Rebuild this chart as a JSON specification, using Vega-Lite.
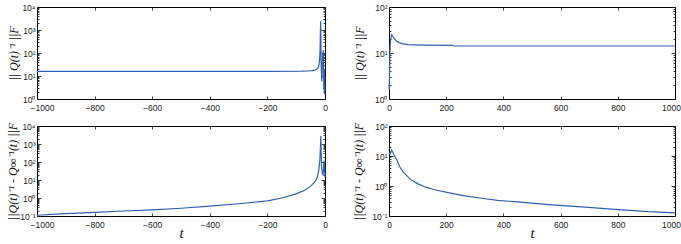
{
  "$schema": "https://vega.github.io/schema/vega-lite/v6.json",
  "padding": {"left": 6, "top": 2, "right": 0, "bottom": 0},
  "background": "white",
  "bounds": "flush",
  "columns": 2,
  "spacing": {"column": 64, "row": 27},
  "config": {
    "view": {"stroke": "black", "strokeWidth": 1},
    "axis": {
      "domain": false,
      "grid": false,
      "tickColor": "#111",
      "tickWidth": 0.8,
      "labelFont": "Liberation Sans",
      "labelFontSize": 8.5,
      "labelColor": "#222",
      "labelFlush": false,
      "format": "d",
      "titleFont": "Liberation Serif",
      "titleFontStyle": "italic",
      "titleFontWeight": "normal",
      "titleColor": "#111"
    },
    "line": {"color": "#2f5fb3", "strokeWidth": 1.2, "clip": true}
  },
  "datasets": {
    "tl": [
      {"t": -1000, "v": 16}, {"t": -600, "v": 16}, {"t": -200, "v": 16}, {"t": -80, "v": 16.2},
      {"t": -60, "v": 16.5}, {"t": -45, "v": 17}, {"t": -35, "v": 18}, {"t": -28, "v": 20},
      {"t": -24, "v": 23}, {"t": -21, "v": 30}, {"t": -19, "v": 45}, {"t": -17, "v": 150},
      {"t": -16, "v": 800}, {"t": -15, "v": 2450}, {"t": -14.3, "v": 300}, {"t": -13.5, "v": 40},
      {"t": -12.5, "v": 15}, {"t": -11, "v": 6}, {"t": -10, "v": 12}, {"t": -9, "v": 40},
      {"t": -8, "v": 80}, {"t": -7, "v": 100}, {"t": -6, "v": 130}, {"t": -5, "v": 60},
      {"t": -4.5, "v": 8}, {"t": -4, "v": 2.5}, {"t": -3, "v": 5}, {"t": -2.5, "v": 2},
      {"t": -2, "v": 20}, {"t": -1.5, "v": 3}, {"t": -1, "v": 10}, {"t": -0.5, "v": 2}, {"t": 0, "v": 1.5}
    ],
    "tr": [
      {"t": 0, "v": 2.0}, {"t": 1, "v": 1.6}, {"t": 2, "v": 4}, {"t": 3, "v": 9}, {"t": 4, "v": 14},
      {"t": 6, "v": 20}, {"t": 9, "v": 25}, {"t": 12, "v": 24}, {"t": 15, "v": 22}, {"t": 20, "v": 20},
      {"t": 27, "v": 18}, {"t": 35, "v": 17}, {"t": 44, "v": 16}, {"t": 55, "v": 15.6}, {"t": 68, "v": 15.2},
      {"t": 90, "v": 15}, {"t": 126, "v": 14.8}, {"t": 222, "v": 14.7}, {"t": 226, "v": 14.2},
      {"t": 400, "v": 14.2}, {"t": 600, "v": 14.2}, {"t": 800, "v": 14.2}, {"t": 1000, "v": 14.2}
    ],
    "bl": [
      {"t": -1000, "v": 0.11}, {"t": -900, "v": 0.135}, {"t": -800, "v": 0.16}, {"t": -700, "v": 0.19},
      {"t": -600, "v": 0.22}, {"t": -500, "v": 0.27}, {"t": -400, "v": 0.35}, {"t": -300, "v": 0.48},
      {"t": -200, "v": 0.69}, {"t": -150, "v": 1.0}, {"t": -100, "v": 1.7}, {"t": -70, "v": 2.7},
      {"t": -47, "v": 5}, {"t": -35, "v": 8}, {"t": -29, "v": 11.7}, {"t": -24, "v": 22},
      {"t": -21, "v": 42}, {"t": -18, "v": 120}, {"t": -16, "v": 600}, {"t": -14.5, "v": 2800},
      {"t": -13.5, "v": 400}, {"t": -12, "v": 63}, {"t": -10, "v": 30}, {"t": -7, "v": 18},
      {"t": -5, "v": 40}, {"t": -3, "v": 120}, {"t": -2, "v": 100}, {"t": -1, "v": 40}, {"t": 0, "v": 14}
    ],
    "br": [
      {"t": 0, "v": 12.6}, {"t": 3, "v": 11.5}, {"t": 6, "v": 13}, {"t": 9, "v": 15.5}, {"t": 12, "v": 14},
      {"t": 17, "v": 11}, {"t": 22, "v": 9}, {"t": 27, "v": 7.6}, {"t": 38, "v": 4.3}, {"t": 50, "v": 2.9},
      {"t": 75, "v": 1.66}, {"t": 100, "v": 1.2}, {"t": 126, "v": 0.93}, {"t": 160, "v": 0.75},
      {"t": 207, "v": 0.6}, {"t": 260, "v": 0.48}, {"t": 324, "v": 0.39}, {"t": 380, "v": 0.33},
      {"t": 440, "v": 0.30}, {"t": 557, "v": 0.24}, {"t": 674, "v": 0.20}, {"t": 790, "v": 0.166},
      {"t": 907, "v": 0.14}, {"t": 1000, "v": 0.128}
    ]
  },
  "concat": [
    {
      "width": 288, "height": 92,
      "data": {"name": "tl"},
      "layer": [
        {"mark": {"type": "line"},
         "encoding": {
           "x": {"field": "t", "type": "quantitative", "scale": {"domain": [-1000, 0], "nice": false, "zero": false},
                 "axis": {"orient": "bottom", "values": [-1000, -800, -600, -400, -200, 0], "tickSize": -3, "labelPadding": 7, "title": null,
                          "labelOffset": {"condition": {"test": "datum.value == -1000", "value": 5}, "value": 0}}},
           "y": {"field": "v", "type": "quantitative", "scale": {"type": "log", "domain": [1, 10000], "nice": false},
                 "axis": {"orient": "left", "values": [1,2,3,4,5,6,7,8,9,10,20,30,40,50,60,70,80,90,100,200,300,400,500,600,700,800,900,1000,2000,3000,4000,5000,6000,7000,8000,9000,10000],
                          "labelExpr": "datum.value==1?'10⁰':datum.value==10?'10¹':datum.value==100?'10²':datum.value==1000?'10³':datum.value==10000?'10⁴':''",
                          "tickSize": {"condition": {"test": "indexof([1,10,100,1000,10000], datum.value) >= 0", "value": -4}, "value": -2},
                          "labelPadding": 6, "title": "|| Q(t)⁻¹ ||F", "titleFontSize": 12, "titlePadding": 1}}
         }},
        {"mark": {"type": "line", "opacity": 0},
         "encoding": {
           "x": {"field": "t", "type": "quantitative", "scale": {"domain": [-1000, 0], "nice": false, "zero": false},
                 "axis": {"orient": "top", "values": [-1000, -800, -600, -400, -200, 0], "tickSize": -3, "labels": false, "title": null}},
           "y": {"field": "v", "type": "quantitative", "scale": {"type": "log", "domain": [1, 10000], "nice": false},
                 "axis": {"orient": "right", "values": [1,2,3,4,5,6,7,8,9,10,20,30,40,50,60,70,80,90,100,200,300,400,500,600,700,800,900,1000,2000,3000,4000,5000,6000,7000,8000,9000,10000],
                          "tickSize": {"condition": {"test": "indexof([1,10,100,1000,10000], datum.value) >= 0", "value": -4}, "value": -2},
                          "labels": false, "title": null}}
         }}
      ],
      "resolve": {"axis": {"x": "independent", "y": "independent"}}
    },
    {
      "width": 286, "height": 92,
      "data": {"name": "tr"},
      "layer": [
        {"mark": {"type": "line"},
         "encoding": {
           "x": {"field": "t", "type": "quantitative", "scale": {"domain": [0, 1000], "nice": false, "zero": false},
                 "axis": {"orient": "bottom", "values": [0, 200, 400, 600, 800, 1000], "tickSize": -3, "labelPadding": 7, "title": null,
                          "labelOffset": {"condition": {"test": "datum.value == 1000", "value": -4}, "value": 0}}},
           "y": {"field": "v", "type": "quantitative", "scale": {"type": "log", "domain": [1, 100], "nice": false},
                 "axis": {"orient": "left", "values": [1,2,3,4,5,6,7,8,9,10,20,30,40,50,60,70,80,90,100],
                          "labelExpr": "datum.value==1?'10⁰':datum.value==10?'10¹':datum.value==100?'10²':''",
                          "tickSize": {"condition": {"test": "indexof([1,10,100], datum.value) >= 0", "value": -4}, "value": -2},
                          "labelPadding": 6, "title": "|| Q(t)⁻¹ ||F", "titleFontSize": 12, "titlePadding": 8}}
         }},
        {"mark": {"type": "line", "opacity": 0},
         "encoding": {
           "x": {"field": "t", "type": "quantitative", "scale": {"domain": [0, 1000], "nice": false, "zero": false},
                 "axis": {"orient": "top", "values": [0, 200, 400, 600, 800, 1000], "tickSize": -3, "labels": false, "title": null}},
           "y": {"field": "v", "type": "quantitative", "scale": {"type": "log", "domain": [1, 100], "nice": false},
                 "axis": {"orient": "right", "values": [1,2,3,4,5,6,7,8,9,10,20,30,40,50,60,70,80,90,100],
                          "tickSize": {"condition": {"test": "indexof([1,10,100], datum.value) >= 0", "value": -4}, "value": -2},
                          "labels": false, "title": null}}
         }}
      ],
      "resolve": {"axis": {"x": "independent", "y": "independent"}}
    },
    {
      "width": 288, "height": 90,
      "data": {"name": "bl"},
      "layer": [
        {"mark": {"type": "line"},
         "encoding": {
           "x": {"field": "t", "type": "quantitative", "scale": {"domain": [-1000, 0], "nice": false, "zero": false},
                 "axis": {"orient": "bottom", "values": [-1000, -800, -600, -400, -200, 0], "tickSize": -3, "labelPadding": 7,
                          "labelOffset": {"condition": {"test": "datum.value == -1000", "value": 5}, "value": 0},
                          "title": "t", "titleFontSize": 15, "titlePadding": -3}},
           "y": {"field": "v", "type": "quantitative", "scale": {"type": "log", "domain": [0.1, 10000], "nice": false},
                 "axis": {"orient": "left", "values": [0.1,0.2,0.3,0.4,0.5,0.6,0.7,0.8,0.9,1,2,3,4,5,6,7,8,9,10,20,30,40,50,60,70,80,90,100,200,300,400,500,600,700,800,900,1000,2000,3000,4000,5000,6000,7000,8000,9000,10000],
                          "labelExpr": "datum.value==0.1?'10⁻¹':datum.value==1?'10⁰':datum.value==10?'10¹':datum.value==100?'10²':datum.value==1000?'10³':datum.value==10000?'10⁴':''",
                          "tickSize": {"condition": {"test": "indexof([0.1,1,10,100,1000,10000], datum.value) >= 0", "value": -4}, "value": -2},
                          "labelPadding": 6, "title": "||Q(t)⁻¹ - Q∞⁻¹(t) ||F", "titleFontSize": 12, "titlePadding": 0}}
         }},
        {"mark": {"type": "line", "opacity": 0},
         "encoding": {
           "x": {"field": "t", "type": "quantitative", "scale": {"domain": [-1000, 0], "nice": false, "zero": false},
                 "axis": {"orient": "top", "values": [-1000, -800, -600, -400, -200, 0], "tickSize": -3, "labels": false, "title": null}},
           "y": {"field": "v", "type": "quantitative", "scale": {"type": "log", "domain": [0.1, 10000], "nice": false},
                 "axis": {"orient": "right", "values": [0.1,0.2,0.3,0.4,0.5,0.6,0.7,0.8,0.9,1,2,3,4,5,6,7,8,9,10,20,30,40,50,60,70,80,90,100,200,300,400,500,600,700,800,900,1000,2000,3000,4000,5000,6000,7000,8000,9000,10000],
                          "tickSize": {"condition": {"test": "indexof([0.1,1,10,100,1000,10000], datum.value) >= 0", "value": -4}, "value": -2},
                          "labels": false, "title": null}}
         }}
      ],
      "resolve": {"axis": {"x": "independent", "y": "independent"}}
    },
    {
      "width": 286, "height": 90,
      "data": {"name": "br"},
      "layer": [
        {"mark": {"type": "line"},
         "encoding": {
           "x": {"field": "t", "type": "quantitative", "scale": {"domain": [0, 1000], "nice": false, "zero": false},
                 "axis": {"orient": "bottom", "values": [0, 200, 400, 600, 800, 1000], "tickSize": -3, "labelPadding": 7,
                          "labelOffset": {"condition": {"test": "datum.value == 1000", "value": -4}, "value": 0},
                          "title": "t", "titleFontSize": 15, "titlePadding": -3}},
           "y": {"field": "v", "type": "quantitative", "scale": {"type": "log", "domain": [0.1, 100], "nice": false},
                 "axis": {"orient": "left", "values": [0.1,0.2,0.3,0.4,0.5,0.6,0.7,0.8,0.9,1,2,3,4,5,6,7,8,9,10,20,30,40,50,60,70,80,90,100],
                          "labelExpr": "datum.value==0.1?'10⁻¹':datum.value==1?'10⁰':datum.value==10?'10¹':datum.value==100?'10²':''",
                          "tickSize": {"condition": {"test": "indexof([0.1,1,10,100], datum.value) >= 0", "value": -4}, "value": -2},
                          "labelPadding": 6, "title": "||Q(t)⁻¹ - Q∞⁻¹(t) ||F", "titleFontSize": 12, "titlePadding": 6}}
         }},
        {"mark": {"type": "line", "opacity": 0},
         "encoding": {
           "x": {"field": "t", "type": "quantitative", "scale": {"domain": [0, 1000], "nice": false, "zero": false},
                 "axis": {"orient": "top", "values": [0, 200, 400, 600, 800, 1000], "tickSize": -3, "labels": false, "title": null}},
           "y": {"field": "v", "type": "quantitative", "scale": {"type": "log", "domain": [0.1, 100], "nice": false},
                 "axis": {"orient": "right", "values": [0.1,0.2,0.3,0.4,0.5,0.6,0.7,0.8,0.9,1,2,3,4,5,6,7,8,9,10,20,30,40,50,60,70,80,90,100],
                          "tickSize": {"condition": {"test": "indexof([0.1,1,10,100], datum.value) >= 0", "value": -4}, "value": -2},
                          "labels": false, "title": null}}
         }}
      ],
      "resolve": {"axis": {"x": "independent", "y": "independent"}}
    }
  ]
}
